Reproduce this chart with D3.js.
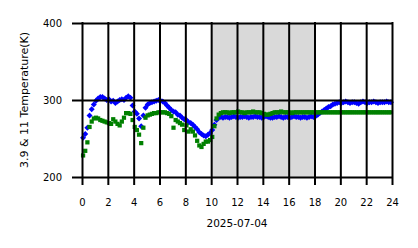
<!DOCTYPE html>
<html>
<head>
<meta charset="utf-8">
<script src="https://cdn.jsdelivr.net/npm/d3@7"></script>
<style>
  html, body { margin: 0; padding: 0; background: #fff; }
  text { font-family: "DejaVu Sans", sans-serif; fill: #000; }
</style>
</head>
<body>
<div id="chart"></div>
<script>
// 10-minute samples over one day (hours)
const times = d3.range(144).map(i => (i + 0.5) / 6);

// 3.9 um brightness temperature (K)
const blueVals = [
  251,256,264,280,288,294,299,302,304,304,
  302,300,301,298,299,296,298,300,301,300,
  303,305,303,293,285,282,276,266,280,290,
  294,296,297,298,299,300,299,298,296,293,
  290,287,285,284,281,280,277,275,274,271,
  270,268,265,262,258,256,254,253,255,257,
  261,268,274,277,278,277,278,278,277,278,
  279,278,277,278,278,279,278,277,278,278,
  279,278,278,277,278,279,278,277,277,278,
  278,279,278,277,278,278,277,278,279,278,
  278,277,278,278,277,278,279,278,
  279,281,283,285,287,289,291,292,294,295,296,297,
  296,297,298,297,296,297,297,296,295,297,
  298,297,296,297,297,298,297,296,297,297,
  297,298,297,297
];

// 11 um brightness temperature (K)
const greenVals = [
  228,234,245,265,272,276,277,276,274,273,
  272,271,270,269,275,272,269,267,272,277,
  283,283,282,274,265,261,255,244,264,277,
  280,281,282,283,283,284,284,284,284,283,
  282,279,264,274,272,270,268,261,267,259,
  262,259,254,247,241,239,243,246,246,248,
  252,266,276,281,283,284,284,284,283,284,
  284,284,285,284,284,283,284,284,284,285,
  284,284,284,283,282,281,281,282,283,284,
  284,284,285,284,284,284,284,283,284,284,
  284,284,284,284,284,284,284,284,
  284,284,284,284,284,284,284,284,284,284,284,284,
  284,284,284,284,284,284,284,284,284,284,
  284,284,284,284,284,284,284,284,284,284,
  284,284,284,284
];

const xTicks = d3.range(0, 25, 2);
const yTicks = [200, 300, 400];
const shadeRange = [10, 18];
const dateLabel = "2025-07-04";
const yLabel = "3.9 & 11 Temperature(K)";

const margin = { top: 23, right: 26, bottom: 71, left: 82 };
const W = 418, H = 248;
const width = W - margin.left - margin.right;
const height = H - margin.top - margin.bottom;

const svg = d3.select("#chart").append("svg")
  .attr("width", W)
  .attr("height", H);

const g = svg.append("g")
  .attr("transform", `translate(${margin.left},${margin.top})`);

const x = d3.scaleLinear().domain([0, 24]).range([0, width]);
const y = d3.scaleLinear().domain([200, 400]).range([height, 0]);

// night/day shading
g.append("rect")
  .attr("x", x(shadeRange[0]))
  .attr("y", 0)
  .attr("width", x(shadeRange[1]) - x(shadeRange[0]))
  .attr("height", height)
  .attr("fill", "#d9d9d9");

// points: blue (3.9) then green (11)
const diamond = d3.symbol().type(d3.symbolSquare).size(18);
g.append("g")
  .selectAll("path")
  .data(times.map((t, i) => [t, blueVals[i]]))
  .join("path")
    .attr("d", diamond)
    .attr("transform", d => `translate(${x(d[0])},${y(d[1])}) rotate(45)`)
    .attr("fill", "#0000ff");

const square = d3.symbol().type(d3.symbolSquare).size(18);
g.append("g")
  .selectAll("path")
  .data(times.map((t, i) => [t, greenVals[i]]))
  .join("path")
    .attr("d", square)
    .attr("transform", d => `translate(${x(d[0])},${y(d[1])})`)
    .attr("fill", "#008000");

// y axis + gridlines (tick lines stretched across)
g.append("g")
  .call(d3.axisLeft(y).tickValues(yTicks).tickSize(10).tickPadding(10))
  .call(a => a.select(".domain").remove())
  .call(a => a.selectAll(".tick line")
    .attr("x1", width + 1)
    .attr("stroke", "#000")
    .attr("stroke-width", 2))
  .call(a => a.selectAll(".tick text")
    .attr("font-size", 10)
    .attr("font-family", "DejaVu Sans"));

// x axis + gridlines
g.append("g")
  .attr("transform", `translate(0,${height})`)
  .call(d3.axisBottom(x).tickValues(xTicks).tickSize(8).tickPadding(14))
  .call(a => a.select(".domain").remove())
  .call(a => a.selectAll(".tick line")
    .attr("y1", -height - 1)
    .attr("stroke", "#000")
    .attr("stroke-width", 2))
  .call(a => a.selectAll(".tick text")
    .attr("font-size", 10)
    .attr("font-family", "DejaVu Sans"));

// labels
g.append("text")
  .attr("x", width / 2)
  .attr("y", height + 50)
  .attr("text-anchor", "middle")
  .attr("font-size", 10.5)
  .text(dateLabel);

svg.append("text")
  .attr("transform", "rotate(-90)")
  .attr("x", -(margin.top + height / 2))
  .attr("y", 28)
  .attr("text-anchor", "middle")
  .attr("font-size", 11)
  .text(yLabel);
</script>
</body>
</html>
